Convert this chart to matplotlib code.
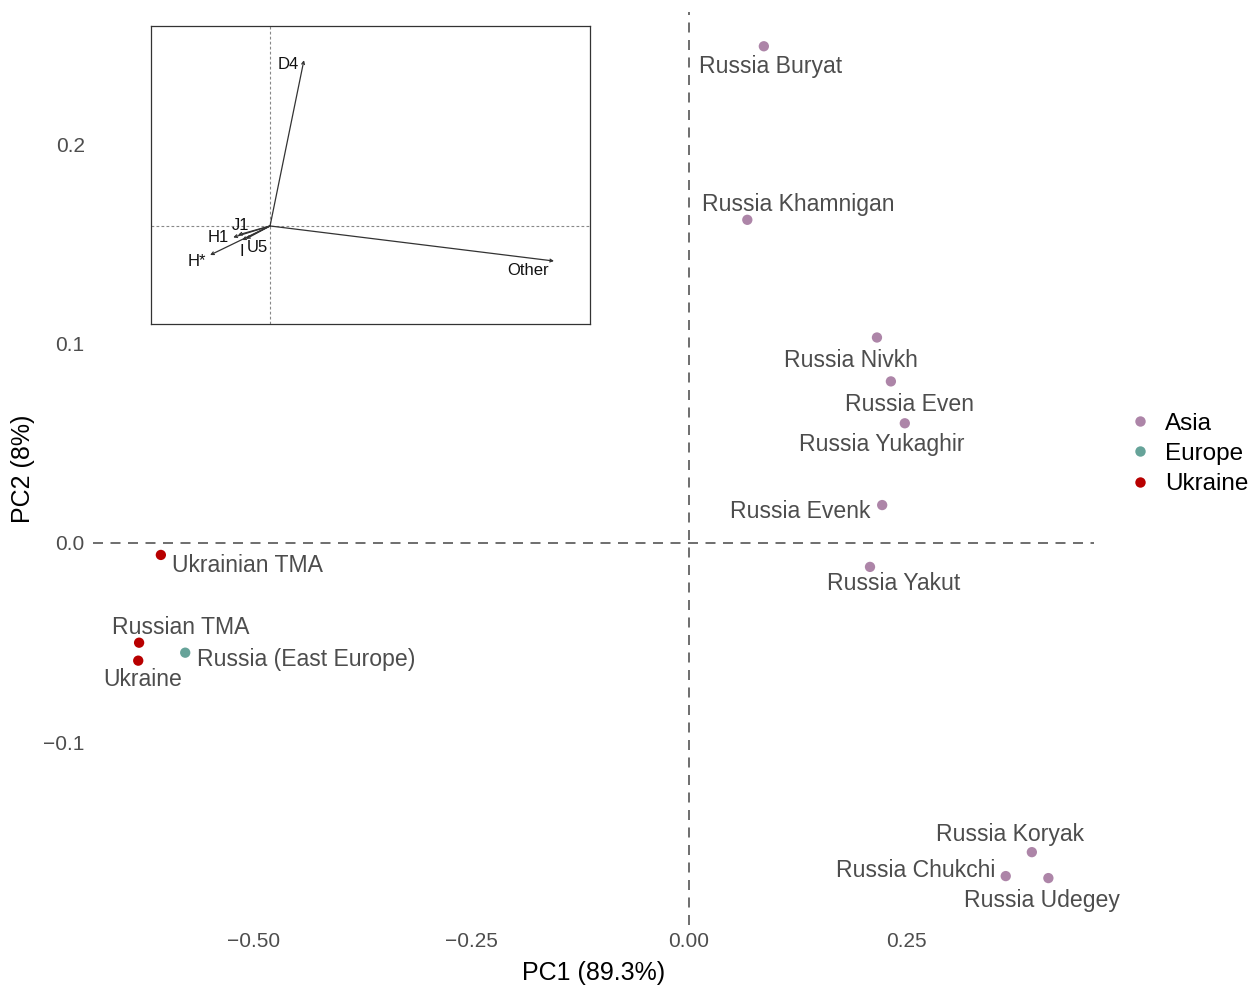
import matplotlib
matplotlib.use("Agg")
import matplotlib.pyplot as plt
from matplotlib.lines import Line2D

plt.rcParams["font.family"] = ["Liberation Sans", "DejaVu Sans"]

# PCA scores per population
POPS = ["Russia Buryat", "Russia Khamnigan", "Russia Nivkh", "Russia Even",
        "Russia Yukaghir", "Russia Evenk", "Russia Yakut", "Russia Koryak",
        "Russia Chukchi", "Russia Udegey", "Ukrainian TMA", "Russian TMA",
        "Ukraine", "Russia (East Europe)"]
REGION = ["Asia"] * 10 + ["Ukraine", "Ukraine", "Ukraine", "Europe"]
PC1 = [0.086, 0.067, 0.216, 0.232, 0.248, 0.222, 0.208, 0.394,
       0.364, 0.413, -0.607, -0.632, -0.633, -0.579]
PC2 = [0.249, 0.162, 0.103, 0.081, 0.060, 0.019, -0.012, -0.155,
       -0.167, -0.168, -0.006, -0.050, -0.059, -0.055]
# label positions (repelled)
LAB_X = [0.094, 0.126, 0.186, 0.253, 0.222, 0.128, 0.235, 0.369,
         0.261, 0.406, -0.507, -0.584, -0.628, -0.440]
LAB_Y = [0.240, 0.171, 0.093, 0.071, 0.051, 0.017, -0.019, -0.145,
         -0.163, -0.178, -0.010, -0.041, -0.067, -0.057]

# loadings for the biplot inset
HAPLO = ["D4", "Other", "H*", "H1", "J1", "I", "U5"]
LOAD_1 = [0.113, 0.947, -0.200, -0.123, -0.107, -0.093, -0.080]
LOAD_2 = [0.553, -0.117, -0.097, -0.038, -0.030, -0.047, -0.043]
HLAB_X = [0.060, 0.860, -0.245, -0.173, -0.100, -0.093, -0.043]
HLAB_Y = [0.540, -0.150, -0.117, -0.037, 0.000, -0.085, -0.073]

COLORS = {"Asia": "#AD85A8", "Europe": "#66A399", "Ukraine": "#B80000"}
ORDER = ["Asia", "Europe", "Ukraine"]
GREY = "#4D4D4D"

fig = plt.figure(figsize=(12.6, 9.88), dpi=100)
ax = fig.add_axes([0.0738, 0.0638, 0.7945, 0.9241])
ax.set_xlim(-0.685, 0.4655)
ax.set_ylim(-0.1915, 0.2662)
for s in ax.spines.values():
    s.set_visible(False)

ax.axhline(0, color="#555555", lw=1.2, ls=(0, (6, 4.5)), zorder=1)
ax.axvline(0, color="#555555", lw=1.2, ls=(0, (6, 4.5)), zorder=1)

for reg in ORDER:
    xs = [x for x, r in zip(PC1, REGION) if r == reg]
    ys = [y for y, r in zip(PC2, REGION) if r == reg]
    ax.scatter(xs, ys, s=55, color=COLORS[reg], edgecolor="none", zorder=3)

for name, lx, ly in zip(POPS, LAB_X, LAB_Y):
    ax.annotate(name, (lx, ly), xytext=(0, -2), textcoords="offset points",
                ha="center", va="center", fontsize=16.6, color=GREY)

ax.set_xticks([-0.5, -0.25, 0, 0.25])
ax.set_xticklabels(["\u22120.50", "\u22120.25", "0.00", "0.25"])
ax.set_yticks([-0.1, 0, 0.1, 0.2])
ax.set_yticklabels(["\u22120.1", "0.0", "0.1", "0.2"])
ax.tick_params(length=0, labelsize=15, labelcolor=GREY)
ax.tick_params(axis="x", pad=5)
ax.tick_params(axis="y", pad=6)
ax.set_xlabel("PC1 (89.3%)", fontsize=18, labelpad=7)
ax.set_ylabel("PC2 (8%)", fontsize=18, labelpad=6)

handles = [Line2D([0], [0], marker="o", ls="", markersize=7.5,
                  markerfacecolor=COLORS[r], markeredgecolor="none", label=r)
           for r in ORDER]
fig.legend(handles=handles, loc="center left", bbox_to_anchor=(0.8755, 0.5405),
           frameon=False, fontsize=17.5, handletextpad=0.45, labelspacing=0.34,
           handlelength=1.2)

# biplot inset
ins = fig.add_axes([151 / 1260, 1 - 324 / 988, 439 / 1260, 298 / 988])
ins.set_xlim(-0.397, 1.067)
ins.set_ylim(-0.327, 0.667)
ins.set_xticks([])
ins.set_yticks([])
for s in ins.spines.values():
    s.set_color("#333333")
    s.set_linewidth(0.9)
ins.axhline(0, color="#888888", lw=0.8, ls=(0, (2.5, 2)))
ins.axvline(0, color="#888888", lw=0.8, ls=(0, (2.5, 2)))
for h, a, b in zip(HAPLO, LOAD_1, LOAD_2):
    ins.annotate("", xy=(a, b), xytext=(0, 0),
                 arrowprops=dict(arrowstyle="->", color="#333333", lw=0.9,
                                 mutation_scale=5, shrinkA=0, shrinkB=0))
for h, lx, ly in zip(HAPLO, HLAB_X, HLAB_Y):
    ins.text(lx, ly, h, ha="center", va="center", fontsize=12, color="#111111")

fig.savefig("out.png", dpi=100)
